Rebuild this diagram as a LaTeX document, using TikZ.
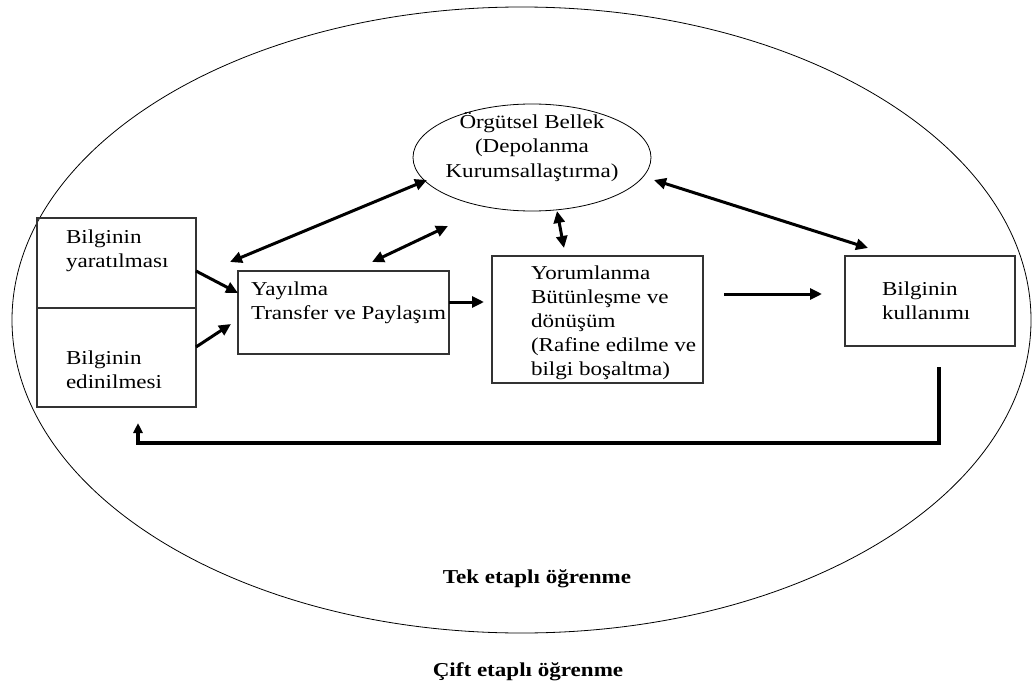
\documentclass[tikz,border=0pt]{standalone}
\usepackage{fontspec}
\setmainfont{Liberation Serif}[FakeStretch=1.17]
\usetikzlibrary{shapes.geometric,arrows.meta}

\begin{document}
\begin{tikzpicture}[x=1pt,y=-1pt,
  every node/.style={inner sep=0pt,outer sep=0pt},
  txt/.style={font=\fontsize{19.7}{24}\selectfont,align=left,anchor=base west},
  ctxt/.style={font=\fontsize{19.7}{24}\selectfont,align=center,anchor=base},
  btxt/.style={font=\fontsize{19.7}{24}\selectfont\bfseries,anchor=base},
  box/.style={draw=black!80,line width=1.1pt,rectangle,anchor=north west},
  oval/.style={draw,ellipse,line width=0.8pt},
  link/.style={line width=3pt,-{Triangle[length=12pt,width=11pt]}},
  twoway/.style={line width=3pt,{Triangle[length=12pt,width=11pt]}-{Triangle[length=12pt,width=11pt]}},
  loopback/.style={line width=3.6pt,-{Triangle[length=10pt,width=9pt]}}
]
\useasboundingbox (0,0) rectangle (1032,687);

% outer boundary: double-loop learning
\node[oval,minimum width=1019pt,minimum height=626pt] (outer) at (521.5,320) {};

% organisational memory (text placed by the baseline of its last line)
\node[oval,minimum width=238pt,minimum height=107pt] (mem) at (532,157.5) {};
\node[ctxt] (memtxt) at (532,177) {Örgütsel Bellek\\(Depolanma\\Kurumsallaştırma)};

% creation / acquisition (split box)
\node[box,minimum width=159pt,minimum height=189pt] (src) at (37,218) {};
\draw[draw=black!80,line width=1.1pt] (src.west |- 0,308) -- (src.east |- 0,308);
\node[txt] (create) at (66,267) {Bilginin\\yaratılması};
\node[txt] (acquire) at (66,388) {Bilginin\\edinilmesi};

% dissemination
\node[box,minimum width=211pt,minimum height=83pt] (yay) at (238,271) {};
\node[txt] (yaytxt) at (251,319) {Yayılma\\Transfer ve Paylaşım};

% interpretation
\node[box,minimum width=211pt,minimum height=127pt] (yor) at (492,256) {};
\node[txt] (yortxt) at (531,375) {Yorumlanma\\Bütünleşme ve\\dönüşüm\\(Rafine edilme ve\\bilgi boşaltma)};

% use
\node[box,minimum width=170pt,minimum height=90pt] (kul) at (845,256) {};
\node[txt] (kultxt) at (882,319) {Bilginin\\kullanımı};

% captions
\node[btxt] (single) at (537,583) {Tek etaplı öğrenme};
\node[btxt] (double) at (528,676) {Çift etaplı öğrenme};

% connector end points
\coordinate (c1s) at (196,271);  \coordinate (c1e) at (238,293);
\coordinate (c2s) at (196,347);  \coordinate (c2e) at (231,324);
\coordinate (c3s) at (230,262);  \coordinate (c3e) at (427,180);
\coordinate (c4s) at (372,262);  \coordinate (c4e) at (448,226);
\coordinate (c5s) at (557,211);  \coordinate (c5e) at (564,248);
\coordinate (c6s) at (654,180);  \coordinate (c6e) at (868,248);
\coordinate (c7s) at (449,302);  \coordinate (c7e) at (484,302);
\coordinate (c8s) at (724,294);  \coordinate (c8e) at (822,294);
\coordinate (fbA) at (939,367);  \coordinate (fbB) at (939,443);
\coordinate (fbC) at (138,443);  \coordinate (fbD) at (138,423);

\draw[link] (c1s) -- (c1e);
\draw[link] (c2s) -- (c2e);
\draw[twoway] (c3s) -- (c3e);
\draw[twoway] (c4s) -- (c4e);
\draw[twoway] (c5s) -- (c5e);
\draw[twoway] (c6s) -- (c6e);
\draw[link] (c7s) -- (c7e);
\draw[link] (c8s) -- (c8e);
\draw[loopback] (fbA) -- (fbB) -- (fbC) -- (fbD);
\end{tikzpicture}
\end{document}
